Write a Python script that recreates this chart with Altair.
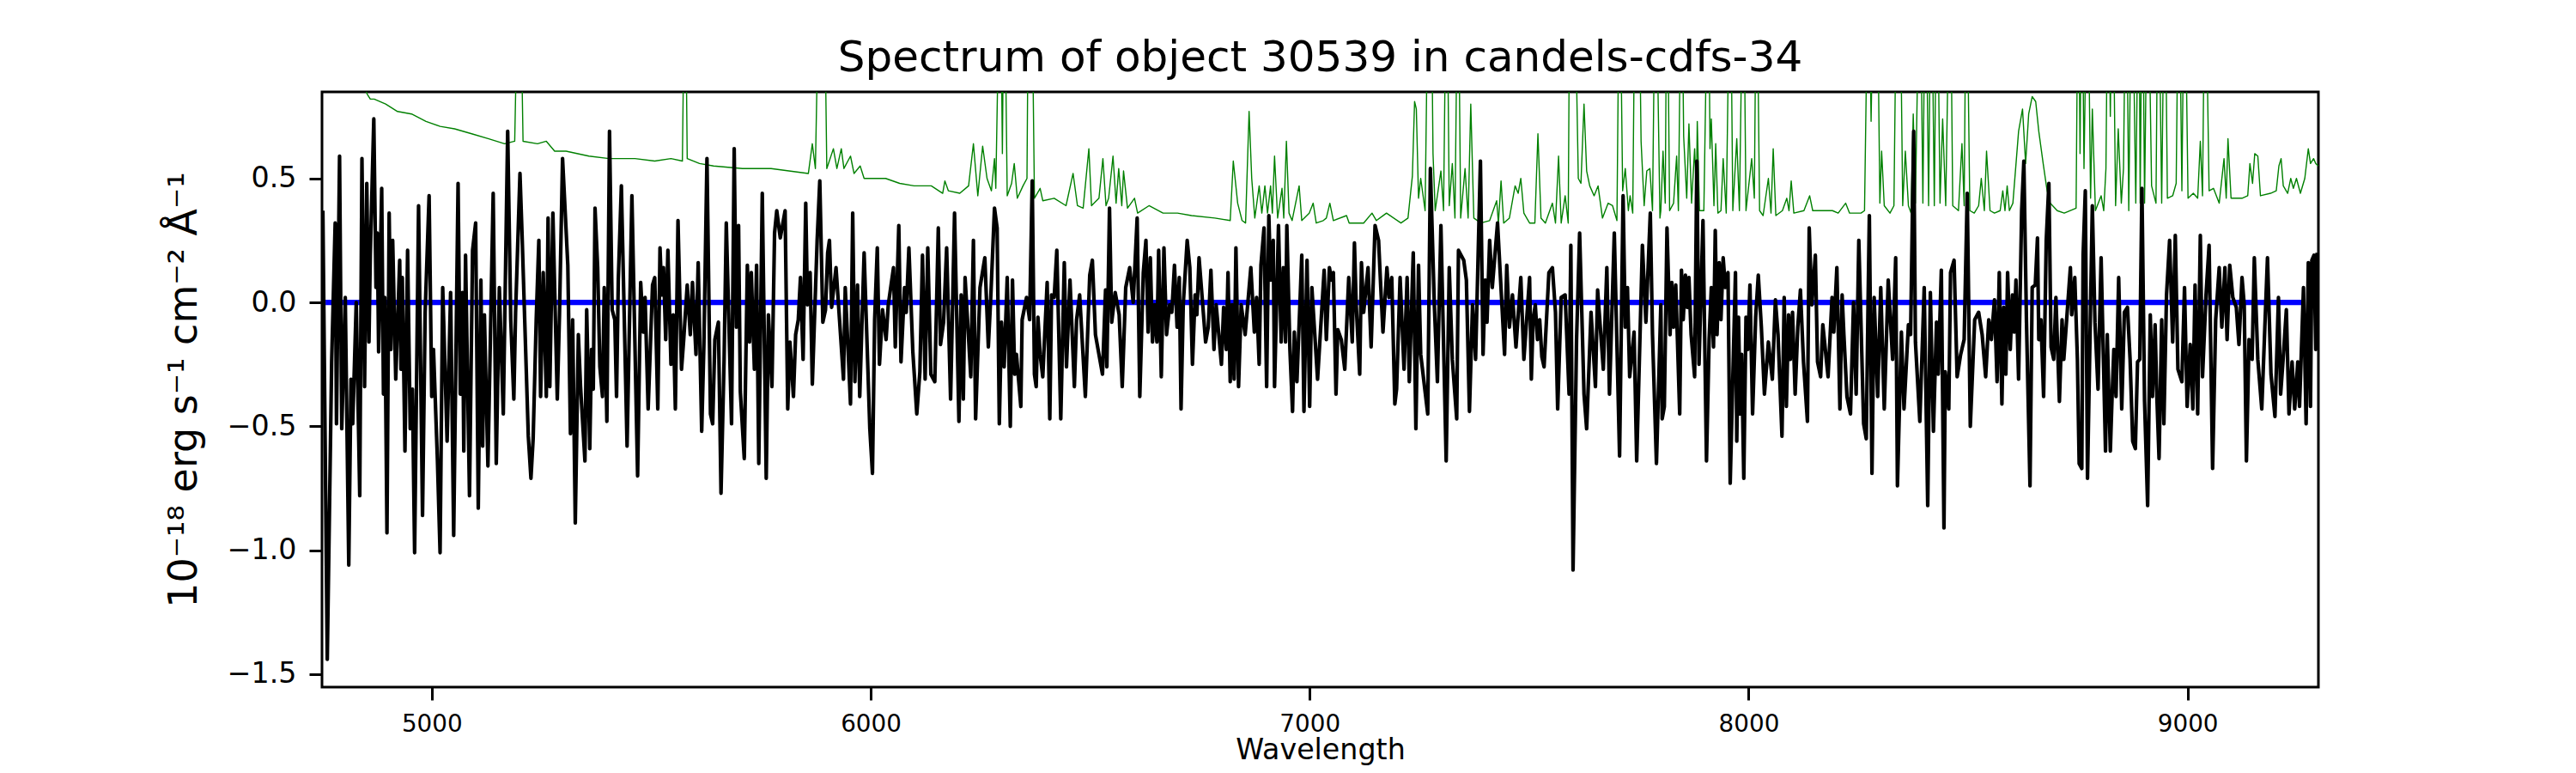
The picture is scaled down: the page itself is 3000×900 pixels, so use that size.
import altair as alt
import pandas as pd

# ---------------- data ----------------
# observed spectrum (black)
flux_wave = [
    4752, 4762, 4772, 4780, 4783, 4790, 4795, 4803, 4811, 4816,
    4820, 4828, 4836, 4841, 4847, 4852, 4857, 4860, 4868, 4873,
    4876, 4879, 4886, 4890, 4893, 4898, 4903, 4907, 4911, 4918,
    4927, 4930, 4933, 4939, 4945, 4951, 4956, 4961, 4970, 4979,
    4985, 4994, 5000, 5004, 5013, 5019, 5025, 5035, 5043, 5050,
    5060, 5065, 5070, 5073, 5077, 5086, 5093, 5100, 5106, 5112,
    5116, 5120, 5128, 5140, 5147, 5154, 5163, 5173, 5180, 5187,
    5191, 5201, 5206, 5220, 5226, 5231, 5238, 5244, 5248, 5254,
    5261, 5265, 5269, 5276, 5286, 5291, 5298, 5310, 5316, 5321,
    5327, 5334, 5339, 5349, 5353, 5360, 5364, 5368, 5372, 5378,
    5383, 5389, 5393, 5399, 5405, 5411, 5417, 5421, 5425, 5432,
    5445, 5456, 5469, 5476, 5482, 5486, 5493, 5503, 5508,
    5515, 5520, 5524, 5528, 5533, 5538, 5545, 5550, 5555, 5561,
    5569, 5574, 5582, 5589, 5594, 5602, 5607, 5615, 5620, 5627,
    5635, 5640, 5645, 5653, 5659, 5666, 5671, 5683, 5689, 5694,
    5699, 5703, 5712, 5719, 5724, 5728, 5735, 5740, 5745, 5753,
    5762, 5767, 5775, 5781, 5786, 5794, 5805, 5811, 5816, 5824,
    5829, 5835, 5840, 5846, 5852, 5856, 5862, 5867, 5878, 5884,
    5891, 5897, 5902, 5906, 5911, 5921, 5929, 5938, 5942, 5954,
    5959, 5964, 5970, 5975, 5985, 5998, 6004, 6009, 6015, 6020,
    6027, 6035, 6040, 6052, 6056, 6064, 6069, 6077, 6081, 6087,
    6096, 6100, 6105, 6112, 6118, 6124, 6130, 6137, 6146, 6154,
    6159, 6166, 6173, 6182, 6191, 6201, 6206, 6211, 6215, 6228,
    6234, 6239, 6249, 6260, 6268, 6274,
    6282, 6288, 6293, 6298, 6304, 6311, 6318, 6323, 6328, 6332,
    6342, 6345, 6355, 6362, 6368, 6373, 6377, 6381, 6386, 6392,
    6402, 6408, 6412, 6418, 6424, 6433, 6441, 6446, 6454, 6464,
    6469, 6476, 6489, 6499, 6505, 6512, 6528, 6535, 6538, 6544,
    6549, 6557, 6566, 6573, 6581, 6590, 6598, 6607, 6613, 6621,
    6627, 6632, 6637, 6642, 6647, 6652, 6656, 6662, 6668, 6674,
    6681, 6686, 6692, 6698, 6703, 6707, 6712, 6721, 6727, 6733,
    6739, 6743, 6748, 6763, 6769, 6775, 6782, 6787, 6799, 6804,
    6810, 6814, 6819, 6823, 6828, 6832, 6838, 6844, 6853, 6866,
    6874, 6879, 6885, 6889, 6896, 6902, 6907, 6911, 6917, 6920,
    6929, 6935, 6940, 6945, 6948, 6955, 6961, 6965, 6971, 6982,
    6987, 6994, 7000, 7005, 7018, 7033, 7038,
    7045, 7050, 7054, 7060, 7064, 7072, 7080, 7089, 7097, 7102,
    7106, 7114, 7118, 7123, 7133, 7140, 7149, 7157, 7162, 7167,
    7176, 7181, 7187, 7194, 7198, 7206, 7215, 7222, 7227, 7236,
    7242, 7248, 7253, 7269, 7275, 7284, 7291, 7299, 7311, 7318,
    7325, 7335, 7339, 7351, 7357, 7364, 7371, 7378, 7389, 7395,
    7400, 7404, 7410, 7416, 7428, 7444, 7449, 7455, 7462, 7470,
    7481, 7488, 7501, 7505, 7509, 7514, 7519, 7524, 7529, 7534,
    7545, 7553, 7560, 7565, 7573, 7582, 7591, 7595, 7600, 7608,
    7615, 7625, 7631, 7641, 7651, 7656, 7669, 7677, 7683, 7694,
    7706, 7714, 7719, 7724, 7729, 7739, 7745, 7758, 7766, 7776,
    7781, 7790, 7800,
    7803, 7808, 7814, 7821, 7825, 7829, 7834, 7843, 7847, 7851,
    7856, 7860, 7864, 7869, 7877, 7882, 7887, 7896, 7904, 7910,
    7915, 7920, 7924, 7928, 7933, 7937, 7942, 7947, 7953, 7958,
    7970, 7973, 7977, 7981, 7984, 7989, 7994, 7998, 8003, 8009,
    8016, 8022, 8029, 8036, 8045, 8054, 8061, 8067, 8076, 8081,
    8086, 8091, 8095, 8100, 8106, 8112, 8118, 8125, 8134, 8138,
    8144, 8152, 8157, 8164, 8169, 8181, 8190, 8194, 8201, 8208,
    8213, 8217, 8224, 8232, 8239, 8245, 8251, 8262, 8268, 8272,
    8275, 8281, 8286, 8294, 8301, 8309, 8318, 8328, 8335, 8339,
    8348, 8354, 8364, 8369, 8376, 8380, 8390, 8400, 8408, 8414,
    8421, 8428, 8432, 8439, 8445, 8448, 8456, 8460, 8468, 8475,
    8483, 8491, 8498, 8505, 8515, 8524, 8532, 8540, 8547, 8553,
    8560,
    8566, 8571, 8577, 8581, 8586, 8590, 8596, 8601, 8605, 8609,
    8615, 8622, 8627, 8633, 8641, 8646, 8653, 8658, 8661, 8666,
    8672, 8678, 8684, 8689, 8695, 8700, 8708, 8714, 8718, 8733,
    8736, 8743, 8749, 8753, 8759, 8762, 8767, 8772, 8783, 8789,
    8796, 8803, 8813, 8817, 8824, 8828, 8832, 8837, 8843, 8850,
    8856, 8863, 8869, 8875, 8881, 8886, 8891, 8896, 8902, 8909,
    8915, 8920, 8926, 8930, 8935, 8941, 8946, 8952, 8959, 8966,
    8972, 8978, 8987, 8993, 8999, 9006, 9012, 9017, 9023, 9029,
    9034, 9042, 9049, 9057, 9064, 9072, 9078, 9085, 9090, 9096,
    9103, 9111, 9117, 9124, 9129, 9134, 9140, 9147, 9152, 9160,
    9169, 9176, 9182, 9190, 9199, 9207, 9212, 9218, 9225, 9231,
    9238, 9244, 9251, 9255, 9264, 9270, 9275, 9280, 9283, 9288,
    9292, 9295,
]
flux_vals = [
    0.37, -1.44, -0.24, 0.32, -0.49, 0.59, -0.51, 0.02, -1.06, -0.31,
    -0.49, 0.00, -0.78, 0.58, -0.34, 0.48, -0.16, 0.19, 0.74, 0.06,
    0.28, -0.20, 0.46, -0.37, 0.02, -0.93, 0.36, -0.19, 0.25, -0.31,
    0.17, -0.27, 0.10, -0.60, 0.21, -0.51, -0.35, -1.01, 0.39, -0.86,
    -0.04, 0.43, -0.38, -0.19, -0.64, -1.01, 0.06, -0.56, 0.04, -0.94,
    0.48, -0.37, 0.04, -0.60, 0.19, -0.78, 0.21, 0.32, -0.83, 0.09,
    -0.58, -0.05, -0.66, 0.44, -0.65, 0.06, -0.45, 0.69, -0.07, -0.39,
    -0.04, 0.52, 0.26, -0.54, -0.71, -0.55, -0.07, 0.25, -0.38, 0.12,
    -0.38, 0.34, -0.34, 0.36, -0.39, -0.05, 0.58, 0.15, -0.53, -0.07,
    -0.89, -0.13, -0.34, -0.64, -0.03, -0.59, -0.19, -0.35, 0.38, 0.14,
    -0.26, -0.38, 0.06, -0.48, 0.69, -0.03, -0.07, -0.38, 0.09, 0.47,
    -0.58, 0.43, -0.70, 0.08, -0.12, 0.02, -0.43, 0.07, 0.10,
    -0.43, 0.22, 0.03, 0.14, -0.15, 0.21, -0.25, -0.05, -0.43, 0.33,
    -0.27, -0.15, 0.07, -0.13, 0.08, -0.21, 0.16, -0.52, -0.17, 0.58,
    -0.45, -0.49, -0.15, -0.08, -0.77, -0.23, 0.32, -0.49, 0.62, -0.10,
    0.31, -0.36, -0.63, 0.15, -0.16, 0.12, -0.27, 0.15, -0.65, 0.44,
    -0.71, -0.05, -0.34, 0.28, 0.37, 0.26, 0.37, -0.43, -0.16, -0.38,
    -0.13, -0.07, 0.10, -0.23, 0.40, -0.01, 0.12, -0.33, 0.25, 0.49,
    -0.08, -0.03, 0.20, 0.25, -0.02, 0.14, -0.07, -0.31, 0.06, -0.41,
    0.36, -0.32, 0.07, -0.38, 0.20, -0.51, -0.69, -0.07, 0.22, -0.25,
    -0.03, -0.15, -0.01, 0.14, -0.18, 0.31, -0.24, 0.06, -0.04, 0.22,
    -0.20, -0.31, -0.45, -0.28, 0.19, -0.31, 0.22, -0.29, -0.32, 0.30,
    -0.17, -0.08, 0.22, -0.39, 0.36, -0.48, 0.03, -0.39, 0.10, -0.30,
    0.25, -0.47, 0.06, 0.18, -0.18, 0.04,
    0.38, 0.30, -0.49, -0.08, -0.26, 0.10, -0.50, 0.09, -0.29, -0.21,
    -0.42, -0.07, 0.02, -0.07, 0.49, -0.29, -0.34, -0.06, -0.21, -0.30,
    0.08, -0.47, 0.03, 0.02, 0.21, -0.47, 0.16, -0.26, 0.09, -0.34,
    -0.07, 0.03, -0.38, 0.11, 0.17, -0.13, -0.29, 0.05, -0.26, 0.38,
    -0.08, 0.04, -0.05, -0.34, 0.06, 0.14, 0.00, 0.34, -0.38, 0.12,
    0.25, -0.12, 0.18, -0.16, -0.01, -0.16, 0.21, -0.30, 0.22, -0.13,
    -0.01, -0.04, 0.15, -0.10, 0.10, -0.43, -0.01, 0.25, 0.14, -0.25,
    0.03, -0.05, 0.18, -0.16, -0.10, 0.13, -0.19, -0.01, -0.25, -0.02,
    -0.19, 0.12, -0.32, -0.01, -0.31, 0.22, -0.34, -0.01, -0.13, 0.14,
    -0.12, 0.02, -0.25, 0.15, 0.30, -0.34, 0.35, 0.09, 0.25, -0.34,
    0.31, -0.16, 0.14, -0.16, 0.31, -0.19, -0.44, -0.12, -0.32, 0.19,
    -0.44, 0.17, -0.42, 0.06, -0.31, 0.13, -0.15,
    0.14, 0.09, 0.12, -0.37, -0.11, -0.15, -0.27, 0.10, -0.16, 0.24,
    -0.01, -0.29, 0.16, -0.04, 0.14, -0.18, 0.31, 0.25, 0.06, -0.12,
    0.14, 0.02, 0.10, -0.41, -0.35, 0.10, -0.27, 0.10, -0.32, 0.20,
    -0.51, 0.15, -0.21, -0.45, 0.54, -0.01, -0.32, 0.31, -0.64, 0.14,
    -0.23, -0.47, 0.21, 0.17, 0.09, -0.44, -0.01, -0.23, 0.57, -0.21,
    0.09, -0.08, 0.25, 0.06, 0.32, -0.21, 0.15, -0.10, 0.03, -0.18,
    0.10, -0.23, 0.10, -0.31, -0.07, -0.01, -0.15, -0.07, -0.22, -0.26,
    0.12, 0.14, -0.04, -0.43, 0.02, 0.03, -0.37, 0.23, -1.08, -0.15,
    0.28, -0.37, -0.51, -0.04, -0.34, 0.05, -0.27, 0.14, -0.37, 0.28,
    -0.62, 0.43, -0.10, 0.06, -0.30, -0.12, -0.64, 0.23, -0.08, 0.36,
    -0.13, -0.65, -0.01,
    -0.47, -0.42, 0.30, -0.13, 0.08, -0.10, 0.07, -0.45, 0.13, -0.07,
    0.11, -0.02, 0.10, -0.13, -0.30, 0.57, -0.25, 0.33, -0.64, -0.15,
    0.06, -0.18, 0.29, -0.13, 0.16, -0.07, 0.18, 0.06, 0.12, -0.73,
    0.12, -0.56, -0.06, -0.45, -0.21, -0.71, -0.06, -0.19, 0.07, -0.45,
    -0.06, 0.11, -0.10, -0.37, -0.16, -0.31, 0.01, -0.13, -0.54, 0.02,
    -0.42, -0.05, -0.23, -0.04, -0.37, -0.10, 0.05, -0.24, -0.48, 0.30,
    -0.01, 0.19, -0.24, -0.30, -0.09, -0.30, 0.02, -0.12, 0.14, -0.43,
    0.03, -0.13, -0.38, -0.45, 0.00, -0.37, 0.25, -0.49, -0.55, -0.01,
    0.35, -0.69, 0.02, -0.38, 0.06, -0.43, 0.09, -0.23, 0.18, -0.74,
    -0.12, -0.43, -0.09, -0.13, 0.69, -0.16, -0.48, 0.06, -0.82, 0.04,
    -0.52, -0.08, -0.29, 0.13, -0.91, -0.28, -0.43, 0.12, 0.17, -0.30,
    -0.21, -0.15, 0.44, -0.50, -0.07, -0.04, -0.13, -0.30, -0.07, -0.15,
    0.01,
    -0.32, 0.12, -0.41, -0.02, -0.29, 0.12, -0.19, 0.03, -0.12, 0.09,
    -0.31, 0.37, 0.57, -0.08, -0.74, 0.06, 0.07, 0.26, -0.15, -0.07,
    -0.38, 0.25, 0.48, -0.18, -0.23, 0.02, -0.40, -0.07, -0.23, 0.14,
    -0.05, 0.10, -0.23, -0.65, -0.67, 0.19, 0.45, -0.71, 0.39, -0.08,
    -0.35, 0.18, -0.60, -0.13, -0.60, -0.38, -0.19, -0.38, 0.10, -0.43,
    -0.04, -0.02, -0.23, -0.56, -0.59, -0.24, -0.23, 0.46, -0.40, -0.82,
    -0.05, -0.38, -0.09, -0.38, -0.63, -0.07, -0.49, 0.03, 0.25, -0.16,
    0.27, -0.27, -0.32, 0.06, -0.42, -0.17, -0.43, 0.07, -0.45, 0.27,
    -0.30, 0.03, 0.23, -0.67, -0.07, 0.14, -0.10, 0.14, -0.15, 0.15,
    0.02, -0.02, -0.17, 0.10, -0.01, -0.64, -0.15, -0.23, 0.18, -0.23,
    -0.43, -0.10, 0.18, -0.29, -0.46, 0.02, -0.37, -0.22, -0.03, -0.45,
    -0.24, -0.43, -0.24, -0.42, 0.06, -0.49, 0.16, -0.42, 0.17, 0.19,
    -0.19, 0.20,
]

# noise / sky spectrum (green); values above the top of the axes are clipped
sky_wave = [
    4750, 4800, 4840, 4853, 4860, 4869, 4895, 4922, 4954, 4987,
    5019, 5052, 5091, 5130, 5166, 5189, 5195, 5203, 5208, 5241,
    5261, 5280, 5306, 5358, 5404, 5424, 5463, 5508,
    5545, 5571, 5577, 5582, 5610, 5642, 5708, 5773, 5858, 5867,
    5874, 5884, 5893, 5900, 5915, 5923, 5933, 5939, 5954, 5962,
    5976, 5985, 6034, 6066, 6099, 6138, 6164, 6169, 6177, 6203,
    6223, 6234, 6244, 6255, 6265, 6275,
    6282, 6285, 6295, 6300, 6304, 6311, 6321, 6327, 6334, 6347,
    6356, 6360, 6366, 6373, 6386, 6392, 6418, 6445, 6461, 6471,
    6484, 6497, 6503, 6520, 6529, 6536, 6542, 6552, 6559, 6565,
    6572, 6576, 6585, 6601, 6608, 6634, 6666, 6699, 6731, 6784,
    6819, 6826, 6836, 6846, 6854, 6862, 6868, 6875, 6885, 6891,
    6898, 6904, 6911, 6915, 6920, 6927, 6937, 6941, 6947, 6953,
    6960, 6976, 6982, 6999, 7008, 7015, 7031,
    7038, 7046, 7054, 7084, 7090, 7123, 7142, 7152, 7175, 7208,
    7224, 7234, 7239, 7243, 7248, 7253, 7263, 7271, 7276, 7281,
    7286, 7299, 7305, 7312, 7318, 7325, 7331, 7338, 7344, 7354,
    7361, 7367, 7374, 7390, 7410, 7426, 7430, 7436, 7442, 7455,
    7468, 7475, 7481, 7488, 7501, 7513, 7520, 7527, 7537, 7553,
    7560, 7567, 7573, 7582, 7589, 7593, 7602, 7612, 7618, 7625,
    7631, 7638, 7648, 7657, 7667, 7680, 7690, 7700, 7706, 7713,
    7719, 7726, 7730, 7736, 7742, 7749, 7755, 7762, 7768, 7775,
    7781, 7788, 7798,
    7800, 7805, 7810, 7814, 7820, 7829, 7836, 7840, 7847, 7852,
    7859, 7864, 7870, 7877, 7881, 7883, 7888, 7898, 7908, 7912,
    7915, 7921, 7925, 7930, 7937, 7942, 7949, 7958, 7964, 7973,
    7979, 7988, 7994, 8007, 8013, 8018, 8025, 8033, 8045, 8051,
    8056, 8062, 8077, 8087, 8092, 8097, 8103, 8126, 8139, 8146,
    8165, 8191, 8204, 8221, 8230, 8256, 8264, 8273, 8279, 8286,
    8292, 8299, 8303, 8309, 8322, 8331, 8338, 8344, 8351, 8357,
    8364, 8370, 8375, 8380, 8390, 8397, 8403, 8410, 8416, 8423,
    8429, 8436, 8442, 8449, 8459, 8465, 8478, 8486, 8491, 8496,
    8504, 8514, 8524, 8530, 8537, 8542, 8550, 8560,
    8573, 8579, 8584, 8589, 8594, 8602, 8615, 8624, 8631, 8638,
    8646, 8654, 8661, 8671, 8680, 8687, 8703, 8719, 8746, 8751,
    8755, 8759, 8764, 8772, 8779, 8783, 8790, 8803, 8809, 8814,
    8819, 8824, 8829, 8836, 8842, 8849, 8854, 8860, 8866, 8873,
    8882, 8889, 8892, 8897, 8902, 8909, 8918, 8928, 8933, 8941,
    8948, 8954, 8966, 8974, 8980, 8987, 8993, 9001, 9013, 9023,
    9029, 9034, 9040, 9049, 9059, 9072, 9083, 9088, 9092, 9099,
    9124, 9137, 9142, 9148, 9153, 9160, 9166, 9189, 9202, 9208,
    9213, 9218, 9228, 9235, 9241, 9248, 9257, 9267, 9275, 9280,
    9287, 9292, 9298,
]
sky_vals = [
    1.20, 1.00, 0.90, 0.84, 0.82, 0.82, 0.80, 0.77, 0.76, 0.73,
    0.71, 0.70, 0.68, 0.66, 0.64, 0.65, 1.20, 1.20, 0.65, 0.64,
    0.65, 0.61, 0.61, 0.59, 0.58, 0.58, 0.58, 0.57,
    0.58, 0.57, 1.50, 0.58, 0.56, 0.55, 0.54, 0.54, 0.52, 0.64,
    0.54, 1.50, 1.50, 0.54, 0.62, 0.54, 0.62, 0.54, 0.59, 0.52,
    0.55, 0.50, 0.50, 0.48, 0.47, 0.47, 0.44, 0.49, 0.45, 0.44,
    0.47, 0.64, 0.43, 0.63, 0.50, 0.45,
    0.58, 0.46, 1.50, 0.60, 1.50, 0.43, 0.48, 0.56, 0.42, 0.47,
    0.50, 1.50, 1.50, 0.42, 0.46, 0.41, 0.42, 0.39, 0.52, 0.39,
    0.38, 0.62, 0.39, 0.42, 0.58, 0.39, 0.42, 0.59, 0.40, 0.54,
    0.39, 0.53, 0.38, 0.42, 0.36, 0.39, 0.36, 0.36, 0.35, 0.34,
    0.33, 0.57, 0.40, 0.33, 0.32, 0.77, 0.50, 0.34, 0.47, 0.36,
    0.47, 0.36, 0.47, 0.36, 0.59, 0.34, 0.46, 0.34, 0.65, 0.36,
    0.33, 0.47, 0.33, 0.36, 0.40, 0.32, 0.33,
    0.34, 0.40, 0.33, 0.35, 0.32, 0.32, 0.36, 0.33, 0.36, 0.32,
    0.34, 0.51, 0.81, 0.78, 0.42, 0.50, 0.37, 1.50, 1.50, 0.60,
    0.37, 0.53, 0.37, 1.50, 0.39, 0.56, 0.34, 1.50, 0.34, 0.54,
    0.34, 0.80, 0.34, 0.32, 0.33, 0.41, 0.32, 0.49, 0.32, 0.34,
    0.47, 0.44, 0.50, 0.36, 0.32, 0.32, 0.68, 0.34, 0.32, 0.40,
    0.32, 0.59, 0.32, 0.43, 0.32, 1.50, 1.50, 0.50, 0.48, 0.80,
    0.53, 0.47, 0.43, 0.47, 0.34, 0.40, 0.39, 0.33, 1.50, 0.45,
    0.54, 0.37, 0.43, 0.36, 1.50, 1.50, 0.65, 0.39, 0.53, 0.54,
    0.37, 1.50, 0.34,
    0.37, 0.61, 0.40, 1.50, 0.37, 0.40, 0.59, 0.37, 1.50, 0.67,
    0.42, 0.72, 0.40, 0.62, 0.43, 0.73, 0.37, 0.37, 1.50, 0.62,
    0.74, 0.39, 0.64, 0.36, 0.37, 0.58, 0.36, 1.50, 0.37, 0.66,
    0.37, 1.50, 0.37, 0.58, 0.42, 1.50, 0.37, 0.35, 0.50, 0.36,
    0.62, 0.35, 0.37, 0.42, 0.37, 0.49, 0.36, 0.37, 0.43, 0.37,
    0.37, 0.37, 0.36, 0.40, 0.36, 0.36, 0.37, 1.50, 0.73, 1.50,
    1.50, 0.40, 0.61, 0.39, 0.36, 0.39, 1.50, 1.50, 0.39, 0.61,
    0.39, 0.36, 0.76, 0.40, 1.50, 0.40, 1.50, 0.39, 1.50, 0.39,
    1.50, 0.40, 0.74, 0.39, 1.50, 0.39, 0.37, 0.64, 0.39, 1.50,
    0.37, 0.36, 0.39, 0.50, 0.37, 0.61, 0.37, 0.36,
    0.37, 0.45, 0.37, 0.47, 0.37, 0.40, 0.69, 0.78, 0.56, 0.76,
    0.83, 0.81, 0.69, 0.56, 0.45, 0.40, 0.37, 0.36, 0.38, 1.50,
    0.60, 1.50, 0.54, 1.50, 0.42, 0.78, 0.37, 0.43, 0.37, 0.54,
    1.50, 0.75, 1.50, 0.39, 0.70, 0.40, 0.54, 1.50, 0.37, 1.50,
    0.40, 1.50, 0.40, 1.50, 0.40, 1.50, 0.47, 0.40, 1.50, 0.40,
    1.50, 0.42, 0.43, 0.48, 1.50, 0.45, 1.50, 0.42, 0.44, 0.42,
    0.65, 0.43, 1.50, 0.45, 0.46, 0.40, 0.58, 0.42, 0.66, 0.42,
    0.42, 0.43, 0.56, 0.48, 0.60, 0.59, 0.43, 0.44, 0.45, 0.55,
    0.58, 0.47, 0.44, 0.50, 0.46, 0.50, 0.44, 0.50, 0.62, 0.56,
    0.58, 0.56, 0.55,
]

# continuum model (blue)
model_wave = [4758, 9259]
model_vals = [0.0, 0.0]

x_ticks = [5000, 6000, 7000, 8000, 9000]
y_ticks = [-1.5, -1.0, -0.5, 0.0, 0.5]
x_range = [4750, 9298]
y_range = [-1.552, 0.849]

title_text = ["Spectrum of object 30539 in candels-cdfs-34"]
x_title = "Wavelength"
y_title = "10\u207b\u00b9\u2078 erg s\u207b\u00b9 cm\u207b\u00b2 \u00c5\u207b\u00b9"

# ---------------- chart ----------------
FONT = "DejaVu Sans"
W, H = 2325, 693

df_flux = pd.DataFrame({"wave": flux_wave, "flux": flux_vals})
df_sky = pd.DataFrame({"wave": sky_wave, "flux": sky_vals})
df_model = pd.DataFrame({"wave": model_wave, "flux": model_vals})
df_title = pd.DataFrame({"t": title_text})

x_scale = alt.Scale(domain=x_range, nice=False, zero=False)
y_scale = alt.Scale(domain=y_range, nice=False, zero=False)

x_axis = alt.Axis(
    values=x_ticks, format="d", title=x_title, grid=False, domain=False,
    tickSize=15, tickWidth=3, tickColor="black",
    labelFont=FONT, labelFontSize=27.8, labelColor="black", labelPadding=14,
    labelFlush=False, labelOverlap=False,
    titleFont=FONT, titleFontSize=33.3, titleFontWeight="normal", titleColor="black",
    titleX=W / 2, titleY=83, titleAlign="center", titleBaseline="alphabetic",
)
y_axis = alt.Axis(
    values=y_ticks, format=".1f", title=y_title, grid=False, domain=False,
    tickSize=15, tickWidth=3, tickColor="black",
    labelFont=FONT, labelFontSize=33.3, labelColor="black", labelPadding=15,
    labelFlush=False, labelOverlap=False,
    titleFont=FONT, titleFontSize=46, titleFontWeight="normal", titleColor="black",
    titleX=-147, titleY=H / 2, titleAngle=270, titleAlign="center",
    titleBaseline="alphabetic",
)

enc = dict(
    x=alt.X("wave:Q", scale=x_scale, axis=x_axis),
    y=alt.Y("flux:Q", scale=y_scale, axis=y_axis),
)

sky = alt.Chart(df_sky).mark_line(
    color="#008000", strokeWidth=1.4, clip=True, strokeJoin="round"
).encode(**enc)
model = alt.Chart(df_model).mark_line(
    color="#0000ff", strokeWidth=6.25, clip=True
).encode(**enc)
spec = alt.Chart(df_flux).mark_line(
    color="black", strokeWidth=4.2, clip=True, strokeJoin="round"
).encode(**enc)

# chart title drawn as a text mark just above the plot frame
title = alt.Chart(df_title).mark_text(
    font=FONT, fontSize=50, color="black", align="center", baseline="alphabetic"
).encode(
    text="t:N",
    x=alt.value(W / 2),
    y=alt.value(-24),
)

chart = alt.layer(sky, model, spec, title).properties(
    width=W,
    height=H,
    autosize=alt.AutoSizeParams(type="none"),
    padding={"left": 367, "top": 99, "right": 292, "bottom": 92},
    background="white",
).configure_view(stroke="black", strokeWidth=3)

chart.save("out.html", embed_options={"renderer": "svg", "actions": False})
